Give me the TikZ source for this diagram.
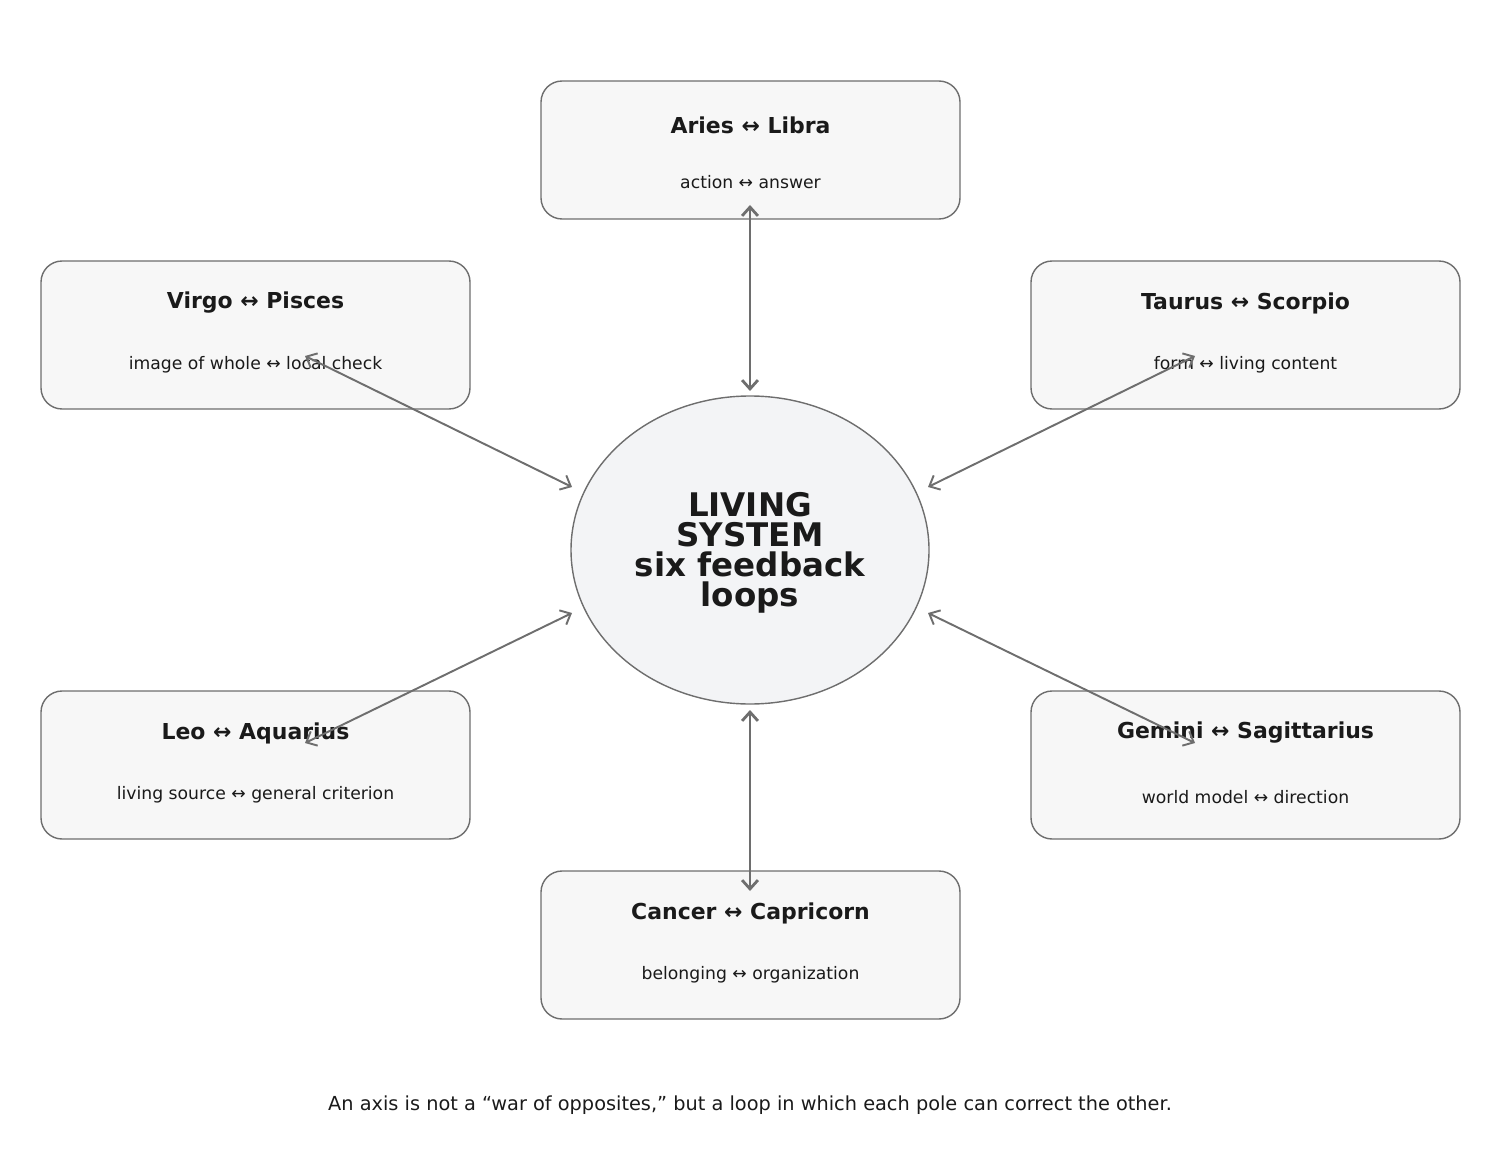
\documentclass[tikz,border=0pt]{standalone}
\usepackage{fontspec}
\setmainfont{DejaVu Sans}
\usetikzlibrary{arrows.meta,shapes.geometric}
\definecolor{boxfill}{HTML}{F7F7F7}
\definecolor{hubfill}{HTML}{F3F4F6}
\definecolor{edge}{HTML}{6E6E6E}
\definecolor{ink}{HTML}{1A1A1A}
\tikzset{
  axis box/.style={draw=edge,fill=boxfill,rounded corners=12pt,thick},
  loop arrow/.style={draw=edge,{Straight Barb[length=5pt,width=9pt]}-{Straight Barb[length=5pt,width=9pt]}},
  title/.style={text=ink,font=\fontsize{12.5}{14}\selectfont\bfseries},
  pair/.style={text=ink,font=\fontsize{9.8}{12}\selectfont}
}
\begin{document}
\begin{tikzpicture}[x=0.02cm,y=-0.02cm]
    \useasboundingbox (0,0) rectangle (1500,1172);

    % hub
    \node[draw=edge,fill=hubfill,thick,ellipse,minimum width=358*0.02cm,minimum height=308*0.02cm] (hub) at (750,550) {};
    \node[text=ink,align=center,font=\fontsize{18.5}{17}\selectfont\bfseries] (hubtext) at (750,553) {LIVING\\SYSTEM\\six feedback\\loops};

    % the six axes
    \foreach \name/\x/\y/\w/\h in {aries/750.5/150/419/138, virgo/255.5/335/429/148,
        taurus/1245.5/335/429/148, leo/255.5/765/429/148,
        gemini/1245.5/765/429/148, cancer/750.5/945/419/148}
        \node[axis box,minimum width=\w*0.02cm,minimum height=\h*0.02cm] (B-\name) at (\x,\y) {};

    \node[title] (T-aries) at (750.5,125) {Aries ↔ Libra};
    \node[pair] (P-aries) at (750.5,182) {action ↔ answer};
    \node[title] (T-virgo) at (255.5,303) {Virgo ↔ Pisces};
    \node[pair] (P-virgo) at (255.5,365) {image of whole ↔ local check};
    \node[title] (T-taurus) at (1245.5,303) {Taurus ↔ Scorpio};
    \node[pair] (P-taurus) at (1245.5,365) {form ↔ living content};
    \node[title] (T-leo) at (255.5,733) {Leo ↔ Aquarius};
    \node[pair] (P-leo) at (255.5,795) {living source ↔ general criterion};
    \node[title] (T-gemini) at (1245.5,733) {Gemini ↔ Sagittarius};
    \node[pair] (P-gemini) at (1245.5,797) {world model ↔ direction};
    \node[title] (T-cancer) at (750.5,913) {Cancer ↔ Capricorn};
    \node[pair] (P-cancer) at (750.5,975) {belonging ↔ organization};

    % arrow ends
    \coordinate (a1) at (750,205);  \coordinate (h1) at (750,391);
    \coordinate (a2) at (305,356);  \coordinate (h2) at (572,487);
    \coordinate (a3) at (1195,356); \coordinate (h3) at (928,487);
    \coordinate (a4) at (305,743);  \coordinate (h4) at (572,613);
    \coordinate (a5) at (1195,743); \coordinate (h5) at (928,613);
    \coordinate (a6) at (750,891);  \coordinate (h6) at (750,710);
    \draw[loop arrow,line width=1.6pt] (a1) -- (h1);
    \draw[loop arrow,line width=1.6pt] (a6) -- (h6);
    \foreach \i in {2,...,5}
        \draw[loop arrow,line width=1.1pt] (a\i) -- (h\i);

    \node[pair,font=\fontsize{11}{13}\selectfont] (note) at (750,1105) {An axis is not a “war of opposites,” but a loop in which each pole can correct the other.};
\end{tikzpicture}
\end{document}
